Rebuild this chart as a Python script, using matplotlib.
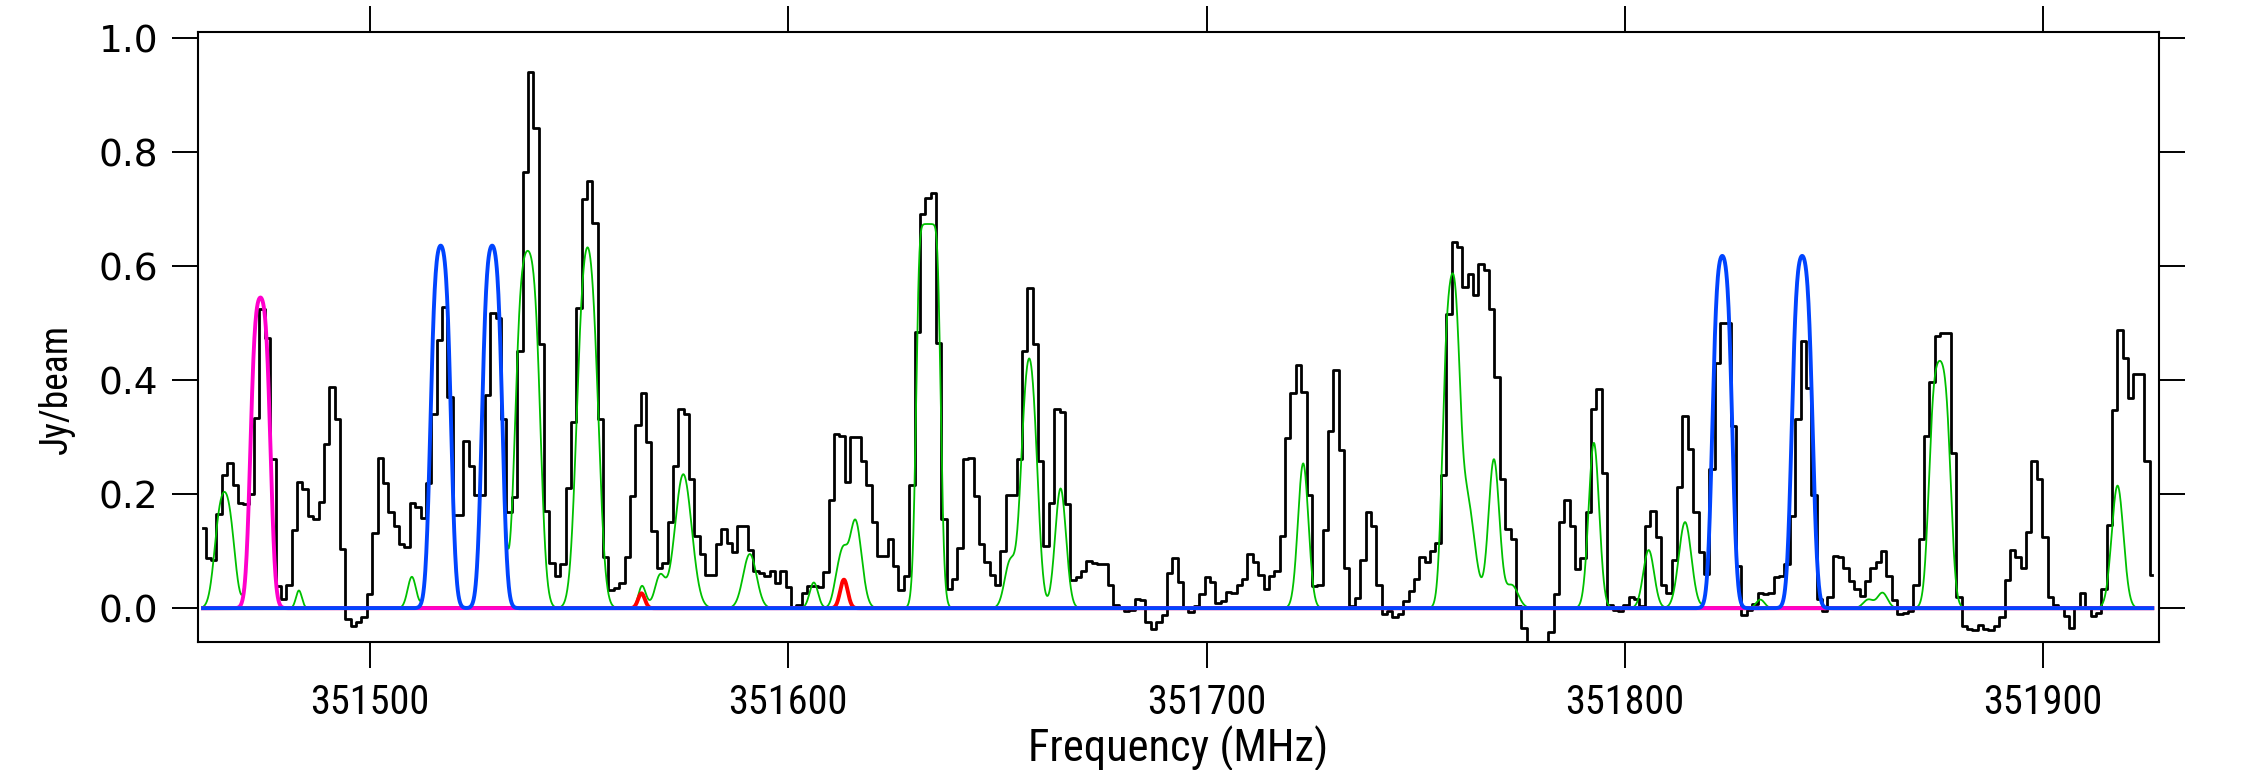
import numpy as np
import matplotlib
matplotlib.use("Agg")
import matplotlib.pyplot as plt

# Observed spectrum (black histogram): first channel centre, channel width in MHz
chan0_mhz = 351460.08
chan_width_mhz = 1.2838
flux_jy = [
    0.141, 0.088, 0.085, 0.166, 0.234, 0.254, 0.216, 0.184, 0.182, 0.200,
    0.334, 0.524, 0.474, 0.261, 0.039, 0.016, 0.041, 0.138, 0.221, 0.209,
    0.161, 0.157, 0.186, 0.288, 0.388, 0.332, 0.104, -0.019, -0.031, -0.024,
    -0.016, 0.024, 0.132, 0.263, 0.220, 0.169, 0.145, 0.113, 0.107, 0.184,
    0.177, 0.159, 0.219, 0.341, 0.470, 0.529, 0.370, 0.163, 0.163, 0.293,
    0.250, 0.199, 0.199, 0.374, 0.518, 0.509, 0.331, 0.168, 0.195, 0.452,
    0.766, 0.941, 0.843, 0.463, 0.171, 0.079, 0.057, 0.077, 0.211, 0.327,
    0.527, 0.718, 0.749, 0.676, 0.331, 0.089, 0.031, 0.036, 0.045, 0.089,
    0.196, 0.321, 0.377, 0.291, 0.136, 0.070, 0.079, 0.151, 0.249, 0.350,
    0.341, 0.227, 0.127, 0.095, 0.058, 0.058, 0.113, 0.139, 0.114, 0.099,
    0.145, 0.145, 0.102, 0.066, 0.061, 0.056, 0.065, 0.045, 0.065, 0.038,
    0.002, 0.006, 0.027, 0.039, 0.039, 0.038, 0.063, 0.189, 0.306, 0.302,
    0.222, 0.301, 0.301, 0.259, 0.216, 0.152, 0.091, 0.091, 0.122, 0.074,
    0.032, 0.056, 0.216, 0.484, 0.691, 0.720, 0.729, 0.466, 0.156, 0.033,
    0.051, 0.106, 0.261, 0.263, 0.197, 0.113, 0.081, 0.058, 0.041, 0.100,
    0.199, 0.199, 0.261, 0.452, 0.562, 0.463, 0.258, 0.109, 0.184, 0.350,
    0.344, 0.182, 0.050, 0.054, 0.065, 0.082, 0.079, 0.077, 0.077, 0.041,
    0.006, 0.002, -0.005, -0.004, 0.016, 0.015, -0.025, -0.037, -0.025, -0.012,
    0.061, 0.088, 0.046, 0.002, -0.006, 0.004, 0.025, 0.054, 0.046, 0.009,
    0.013, 0.029, 0.026, 0.041, 0.051, 0.095, 0.081, 0.058, 0.033, 0.056,
    0.066, 0.127, 0.299, 0.377, 0.427, 0.379, 0.199, 0.039, 0.041, 0.138,
    0.311, 0.418, 0.277, 0.070, 0.004, 0.018, 0.084, 0.169, 0.144, 0.040,
    -0.011, -0.005, -0.016, -0.010, 0.013, 0.030, 0.052, 0.089, 0.081, 0.100,
    0.115, 0.234, 0.516, 0.643, 0.633, 0.564, 0.586, 0.549, 0.604, 0.594,
    0.524, 0.406, 0.226, 0.139, 0.122, 0.004, -0.035, -0.080, -0.090, -0.080,
    -0.070, -0.041, 0.024, 0.151, 0.189, 0.144, 0.069, 0.088, 0.169, 0.350,
    0.384, 0.238, 0.006, -0.004, -0.005, 0.006, 0.020, 0.016, 0.004, 0.144,
    0.170, 0.124, 0.041, 0.027, 0.084, 0.213, 0.338, 0.279, 0.169, 0.099,
    0.060, 0.245, 0.430, 0.500, 0.500, 0.320, 0.074, -0.012, -0.004, 0.007,
    0.027, 0.024, 0.027, 0.054, 0.056, 0.077, 0.161, 0.332, 0.468, 0.386,
    0.199, 0.016, -0.005, 0.020, 0.091, 0.089, 0.070, 0.047, 0.033, 0.022,
    0.047, 0.070, 0.081, 0.100, 0.056, 0.014, -0.011, -0.009, -0.005, 0.041,
    0.122, 0.302, 0.396, 0.477, 0.482, 0.482, 0.272, 0.020, -0.031, -0.037,
    -0.039, -0.030, -0.036, -0.039, -0.031, -0.016, 0.049, 0.102, 0.089, 0.070,
    0.134, 0.259, 0.226, 0.124, 0.020, 0.006, 0.002, -0.014, -0.034, 0.002,
    0.026, 0.002, -0.014, -0.009, 0.034, 0.146, 0.347, 0.488, 0.439, 0.368,
    0.411, 0.411, 0.259, 0.059,
]

# Model line components: centre (MHz), peak (Jy/beam), sigma (MHz), opacity
green_center = [351465.2, 351483.0, 351510.0, 351537.7, 351552.0, 351565.5,
                351569.3, 351574.9, 351590.8, 351606.1, 351612.0, 351616.0,
                351633.5, 351653.0, 351657.6, 351665.1, 351723.1, 351758.4,
                351762.0, 351768.7, 351773.0, 351792.6, 351805.7, 351814.4,
                351832.4, 351858.2, 351861.6, 351875.3, 351917.8]
green_peak = [0.204, 0.031, 0.055, 0.627, 0.633, 0.015,
              0.055, 0.235, 0.095, 0.045, 0.060, 0.155,
              0.674, 0.080, 0.438, 0.210, 0.254, 0.540,
              0.200, 0.260, 0.040, 0.290, 0.102, 0.151,
              0.015, 0.015, 0.027, 0.434, 0.215]
green_sigma = [1.6, 0.7, 1.0, 1.75, 1.8, 1.0,
               1.2, 2.0, 1.6, 1.0, 1.1, 1.5,
               1.3, 1.3, 1.5, 1.3, 1.25, 1.3,
               2.0, 1.3, 1.5, 1.25, 1.3, 1.5,
               1.0, 1.2, 1.2, 1.5, 1.4]
green_tau = [1.5, 0, 0, 3, 1.5, 0,
             0, 0, 0, 0, 0, 0,
             10, 0, 1, 0, 0, 2,
             0, 0, 0, 0, 0, 0,
             0, 0, 0, 3, 0]

blue_center = [351516.9, 351529.2, 351823.3, 351842.4]
blue_peak = [0.636, 0.636, 0.618, 0.618]
blue_sigma = [1.42, 1.42, 1.38, 1.44]
blue_tau = [3, 3, 3, 3]

magenta_center = [351473.8]
magenta_peak = [0.545]
magenta_sigma = [1.39]
magenta_tau = [3]

red_center = [351564.9, 351613.3]
red_peak = [0.026, 0.050]
red_sigma = [0.8, 0.9]
red_tau = [0, 0]


def line_profile(freq, center, peak, sigma, tau):
    g = np.exp(-0.5 * ((freq - center) / sigma) ** 2)
    if tau <= 0:
        return peak * g
    return peak * (1 - np.exp(-tau * g)) / (1 - np.exp(-tau))


def model(freq, centers, peaks, sigmas, taus):
    total = np.zeros_like(freq)
    for c, p, s, t in zip(centers, peaks, sigmas, taus):
        total += line_profile(freq, c, p, s, t)
    return total


flux = np.array(flux_jy)
freq_obs = chan0_mhz + chan_width_mhz * np.arange(len(flux))
freq_mod = np.linspace(freq_obs[0], freq_obs[-1], 6000)

blue_mod = model(freq_mod, blue_center, blue_peak, blue_sigma, blue_tau)
magenta_mod = model(freq_mod, magenta_center, magenta_peak, magenta_sigma, magenta_tau)
red_mod = model(freq_mod, red_center, red_peak, red_sigma, red_tau)
# green is the full model: all components together
green_mod = (model(freq_mod, green_center, green_peak, green_sigma, green_tau)
             + blue_mod + magenta_mod + red_mod)

# a condensed face if one is installed, else the regular sans
cond = ["Roboto Condensed", "Open Sans Condensed", "Liberation Sans Narrow",
        "Liberation Sans", "DejaVu Sans"]

fig = plt.figure(figsize=(22.41, 7.70), dpi=100)
ax = fig.add_axes([0.0885, 0.1668, 0.8747, 0.7914])

ax.plot(freq_obs, flux, drawstyle="steps-mid", color="black", lw=2.0, zorder=2)
ax.plot(freq_mod, green_mod, color="#00c000", lw=1.3, zorder=3)
ax.plot(freq_mod, red_mod, color="#ff0000", lw=2.8, zorder=4)
ax.plot(freq_mod, magenta_mod, color="#ff00cc", lw=2.8, zorder=5)
ax.plot(freq_mod, blue_mod, color="#0044ff", lw=2.8, zorder=6)

ax.set_xlim(351458.95, 351927.6)
ax.set_ylim(-0.0586, 1.0105)
ax.set_xticks([351500, 351600, 351700, 351800, 351900])
ax.set_yticks([0.0, 0.2, 0.4, 0.6, 0.8, 1.0])
ax.set_yticklabels(["0.0", "0.2", "0.4", "0.6", "0.8", "1.0"],
                   family="DejaVu Sans", fontsize=27)
ax.set_xticklabels(["351500", "351600", "351700", "351800", "351900"],
                   family=cond, fontsize=29)

ax.tick_params(axis="both", which="major", direction="out", length=19,
               width=1.4, top=True, right=True)
ax.tick_params(axis="y", pad=10)
ax.tick_params(axis="x", pad=11)
for sp in ax.spines.values():
    sp.set_linewidth(1.5)

ax.set_xlabel("Frequency (MHz)", family=cond, fontsize=32, labelpad=3)
ax.set_ylabel("Jy/beam", family=cond, fontsize=27)
ax.yaxis.set_label_coords(-0.063, 0.415)

fig.savefig("out.png", dpi=100)
